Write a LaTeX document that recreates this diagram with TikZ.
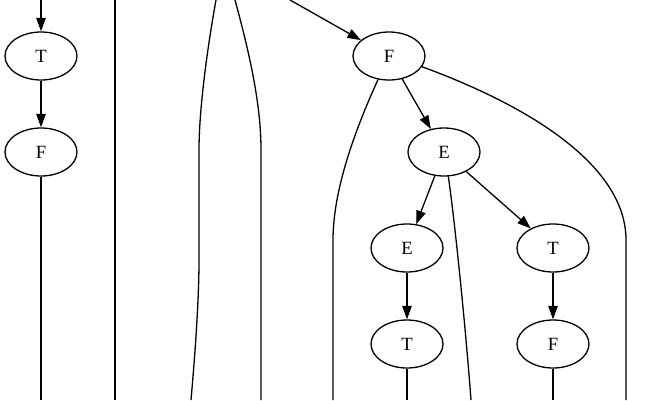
\documentclass[tikz,border=0pt]{standalone}
\usepackage{fontspec}
\setmainfont{Liberation Serif}
\usetikzlibrary{shapes.geometric,arrows.meta}
\begin{document}
\begin{tikzpicture}[x=1pt,y=-1pt,line width=1.3pt,
  gnode/.style={draw,ellipse,minimum width=72pt,minimum height=48pt,inner sep=0pt,font=\fontsize{18.7}{22}\selectfont},
  arr/.style={-{Triangle[length=13.5pt,width=9.5pt]}},
  plain/.style={}]
\useasboundingbox (0,0) rectangle (656,400);
\node[gnode] (T1) at (41,56) {T};
\node[gnode] (F1) at (41,152) {F};
\node[gnode] (F2) at (389,56) {F};
\node[gnode] (E1) at (444,152) {E};
\node[gnode] (E2) at (407,248) {E};
\node[gnode] (T2) at (553,248) {T};
\node[gnode] (T3) at (407,344) {T};
\node[gnode] (F3) at (553,344) {F};
\coordinate (inT1) at (41,0);
\coordinate (inF2) at (290,0);
\coordinate (outF1) at (41,400);
\coordinate (vA0) at (115,0);
\coordinate (vA1) at (115,400);
\coordinate (cL0) at (216,0);
\coordinate (cL1) at (191,400);
\coordinate (cR0) at (235,0);
\coordinate (cR1) at (261,400);
\coordinate (f2L) at (333,400);
\coordinate (f2R) at (626,400);
\coordinate (e1D) at (471,400);
\coordinate (outT3) at (407,400);
\coordinate (outF3) at (553,400);
\draw[arr] (inT1) -- (T1);
\draw[arr] (T1) -- (F1);
\draw (F1) -- (outF1);
\draw (vA0) -- (vA1);
\draw (cL0) .. controls (207,50) and (199,110) .. (199,150) -- (199,260) .. controls (199,300) and (195,355) .. (cL1);
\draw (cR0) .. controls (250,55) and (261,105) .. (261,150) -- (cR1);
\draw[arr] (inF2) -- (F2);
\draw[arr] (F2) -- (E1);
\draw (F2.-115) .. controls (355,130) and (333,190) .. (333,240) -- (f2L);
\draw (F2.-18) .. controls (540,110) and (626,170) .. (626,240) -- (f2R);
\draw[arr] (E1) -- (E2);
\draw[arr] (E1) -- (T2);
\draw (E1.-80) .. controls (454,215) and (465,320) .. (e1D);
\draw[arr] (E2) -- (T3);
\draw[arr] (T2) -- (F3);
\draw (T3) -- (outT3);
\draw (F3) -- (outF3);
\end{tikzpicture}
\end{document}
